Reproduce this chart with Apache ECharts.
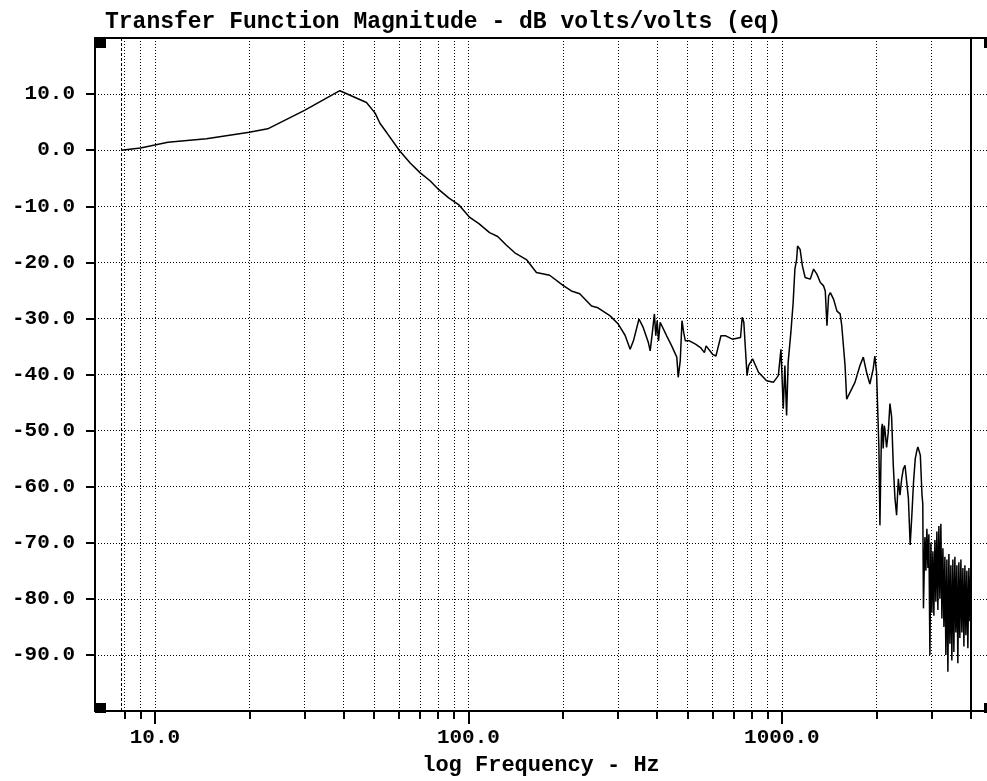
<!DOCTYPE html>
<html>
<head>
<meta charset="utf-8">
<script src="https://cdn.jsdelivr.net/npm/echarts@6/dist/echarts.min.js"></script>
<style>
html,body{margin:0;padding:0;background:#fff;}
#chart{width:987px;height:781px;}
</style>
</head>
<body>
<div id="chart"></div>
<script>
var titleText = 'Transfer Function Magnitude - dB volts/volts (eq)';
var xAxisName = 'log Frequency - Hz';
var xMajorTicks = [10, 100, 1000];
var xMinorTicks = [8, 9, 20, 30, 40, 50, 60, 70, 80, 90, 200, 300, 400, 500, 600, 700, 800, 900, 2000, 3000, 4000];
var yTicks = [-90, -80, -70, -60, -50, -40, -30, -20, -10, 0, 10];
var dataStartHz = 7.8;
var dataEndHz = 4000;

var freqHz = [
  7.8, 9.0, 11.0, 14.6, 20, 22.9, 30, 38.9, 47.3, 50.4, 52.2, 55, 60.5, 65.2, 70.2, 75.6, 80.3, 86.5, 93,
  101, 108, 116.8, 124, 132, 140.6, 153.1, 164.8, 181.6, 200.3, 213, 226.5, 247, 259, 282.5, 300.6,
  316, 328, 336, 350, 361, 375, 380, 385, 392, 396, 400, 404, 409, 414, 429, 445, 462, 467, 474,
  480, 486, 492, 507, 530, 550, 566, 573, 601, 616, 639, 662, 695, 738, 747, 756, 765, 774, 783,
  806, 842, 894, 939, 974, 993, 1010, 1022, 1035, 1047, 1068, 1086, 1100, 1114, 1122, 1143, 1162,
  1186, 1231, 1262, 1293, 1326, 1358, 1375, 1392, 1409, 1427, 1462, 1498, 1534, 1552, 1590, 1609,
  1649, 1710, 1774, 1818, 1862, 1908, 1955, 1979, 2004, 2019, 2039, 2054, 2069, 2079, 2090, 2104,
  2120, 2130, 2157, 2184, 2211, 2238, 2266, 2294, 2322, 2351, 2380, 2410, 2440, 2470, 2501, 2532,
  2565, 2597, 2629, 2663, 2696, 2715, 2764, 2798, 2814, 2828,
  2858, 2879, 2900, 2922, 2943, 2965, 2987, 3009, 3031, 3053, 3076, 3098, 3121, 3144, 3167, 3191,
  3214, 3238, 3262, 3286, 3310, 3334, 3359, 3384, 3409, 3434, 3459, 3484, 3510, 3536, 3562, 3588,
  3615, 3641, 3668, 3695, 3723, 3750, 3778, 3806, 3834, 3862, 3890, 3919, 3948, 3977, 4000
];
var magDb = [
  0.0, 0.4, 1.4, 2.05, 3.2, 3.8, 7.1, 10.6, 8.5, 6.6, 4.8, 3.05, -0.2, -2.3, -4.05, -5.5, -7.0, -8.5, -9.7,
  -12.0, -13.1, -14.7, -15.4, -16.9, -18.3, -19.5, -21.8, -22.3, -24.1, -25.1, -25.6, -27.8, -28.1, -29.5, -31.0,
  -33.0, -35.5, -34.0, -30.1, -31.6, -34.3, -35.8, -33.1, -29.2, -33.1, -30.4, -34.0, -30.7, -31.3, -33.1, -34.9, -36.9, -40.5, -37.5,
  -30.4, -32.5, -34.0, -34.0, -34.6, -35.2, -36.1, -34.9, -36.4, -36.7, -33.1, -33.1, -33.7, -33.4, -29.8, -30.7, -35.5, -40.2, -38.4,
  -37.2, -39.6, -41.1, -41.4, -40.2, -35.5, -46.1, -38.4, -47.3, -37.8, -32.5, -27.2, -21.2, -19.5, -17.1, -17.7, -20.6,
  -22.7, -23.0, -21.2, -22.1, -23.6, -24.2, -25.1, -31.3, -26.0, -25.4, -26.6, -28.7, -29.2, -31.3, -38.4, -44.4,
  -43.2, -41.4, -38.4, -36.9, -39.6, -41.7, -39.0, -36.7, -39.6, -45.5, -53.2, -66.9, -55.9, -49.7, -48.8, -53.2,
  -49.1, -49.7, -53.0, -50.3, -45.2, -47.5, -56.2, -62.1, -65.1, -58.6, -61.5, -58.6, -56.8, -56.2, -59.2, -62.1,
  -70.4, -65.1, -59.2, -55.0, -53.5, -52.9, -54.4, -61.5, -63.0, -81.7,
  -69.0, -75.0, -67.5, -74.5, -68.5, -90.0, -70.0, -82.5, -71.5, -83.0, -69.5, -80.5, -68.0, -82.0, -67.0, -80.0,
  -66.6, -83.5, -71.0, -85.0, -72.5, -90.0, -73.0, -93.0, -72.0, -88.0, -74.0, -91.0, -73.0, -89.5, -72.5, -86.0,
  -74.0, -91.5, -73.5, -87.0, -73.0, -86.0, -74.5, -88.5, -74.0, -86.5, -75.0, -88.8, -74.5, -84.0, -76.0
];

var FONT = 'Liberation Mono';
var seriesData = freqHz.map(function (f, i) { return [f, magDb[i]]; });

var chart = echarts.init(document.getElementById('chart'), null, {renderer: 'canvas'});
var dotted = {color: '#000', width: 1, type: [1, 2]};

chart.setOption({
  animation: false,
  backgroundColor: '#fff',
  title: {
    text: titleText,
    left: 100, top: 6,
    textStyle: {fontFamily: FONT, fontWeight: 'bold', fontSize: 23, color: '#000'}
  },
  grid: {left: 95, right: 0, top: 38, bottom: 68, containLabel: false},
  xAxis: [
    {
      type: 'log', min: 6.44, max: 4510, position: 'bottom',
      name: xAxisName, nameLocation: 'middle', nameGap: 43,
      nameTextStyle: {fontFamily: FONT, fontWeight: 'bold', fontSize: 22, color: '#000'},
      axisLine: {show: true, onZero: false, lineStyle: {color: '#000', width: 2}},
      axisTick: {show: true, customValues: xMajorTicks, length: 13, lineStyle: {color: '#000', width: 2}},
      axisLabel: {show: true, customValues: xMajorTicks, margin: 16, color: '#000',
        fontFamily: FONT, fontWeight: 'bold', fontSize: 21,
        formatter: function (v) { return Number(v).toFixed(1); }},
      splitLine: {show: true, lineStyle: dotted},
      minorTick: {show: false}, minorSplitLine: {show: false}
    },
    {
      type: 'log', min: 6.44, max: 4510, position: 'bottom',
      axisLine: {show: false, onZero: false},
      axisTick: {show: true, customValues: xMinorTicks, length: 8, lineStyle: {color: '#000', width: 2}},
      axisLabel: {show: false},
      splitLine: {show: true, lineStyle: dotted}
    },
    {
      type: 'log', min: 6.44, max: 4510, position: 'top',
      axisLine: {show: true, onZero: false, lineStyle: {color: '#000', width: 2}},
      axisTick: {show: false}, axisLabel: {show: false}, splitLine: {show: false}
    }
  ],
  yAxis: {
    type: 'value', min: -100, max: 20, interval: 10,
    axisLine: {show: true, onZero: false, lineStyle: {color: '#000', width: 2}},
    axisTick: {show: true, customValues: yTicks, length: 9, lineStyle: {color: '#000', width: 2}},
    axisLabel: {show: true, customValues: yTicks, margin: 20, color: '#000',
      fontFamily: FONT, fontWeight: 'bold', fontSize: 21,
      formatter: function (v) { return Number(v).toFixed(1); }},
    splitLine: {show: true, lineStyle: dotted}
  },
  graphic: [
    {type: 'rect', shape: {x: 95, y: 38, width: 11, height: 10}, style: {fill: '#000'}},
    {type: 'rect', shape: {x: 95, y: 703, width: 11, height: 10}, style: {fill: '#000'}},
    {type: 'rect', shape: {x: 984, y: 38, width: 11, height: 10}, style: {fill: '#000'}},
    {type: 'rect', shape: {x: 984, y: 703, width: 11, height: 10}, style: {fill: '#000'}}
  ],
  series: [{
    type: 'line',
    xAxisIndex: 0,
    data: seriesData,
    showSymbol: false,
    symbol: 'none',
    lineStyle: {color: '#000', width: 1.5},
    markLine: {
      silent: true, symbol: 'none', label: {show: false},
      data: [
        {xAxis: dataStartHz, lineStyle: {color: '#000', width: 1, type: [3, 2]}},
        {xAxis: dataEndHz, lineStyle: {color: '#000', width: 2, type: 'solid'}}
      ]
    }
  }]
});
</script>
</body>
</html>
